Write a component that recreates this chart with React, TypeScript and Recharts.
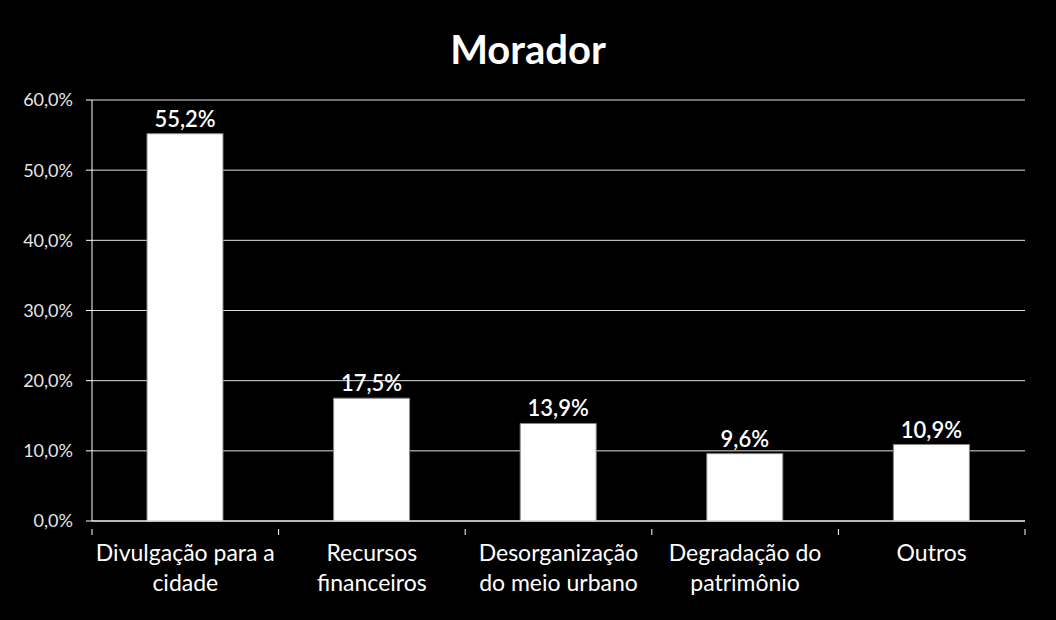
import { BarChart, Bar, XAxis, YAxis, CartesianGrid, LabelList } from "recharts";

const categories = [
  ["Divulgação para a", "cidade"],
  ["Recursos", "financeiros"],
  ["Desorganização", "do meio urbano"],
  ["Degradação do", "patrimônio"],
  ["Outros"],
];
const values = [55.2, 17.5, 13.9, 9.6, 10.9];
const yTicks = [0, 10, 20, 30, 40, 50, 60];

const data = categories.map((lines, i) => ({ name: lines.join(" "), lines, value: values[i] }));

const fmt = (v: number) => v.toFixed(1).replace(".", ",") + "%";
const FONT = "Lato, 'Open Sans', sans-serif";

const CategoryTick = (props: any) => {
  const { x, y, payload, index } = props;
  const half = payload.offset ?? 0;
  const lines: string[] = data[index]?.lines ?? [payload.value];
  return (
    <g>
      {index === 0 && <line x1={x - half} x2={x - half} y1={y} y2={y + 6} stroke="#fff" />}
      <line x1={x + half} x2={x + half} y1={y} y2={y + 6} stroke="#fff" />
      {lines.map((l, i) => (
        <text key={i} x={x} y={y + 32 + i * 30} textAnchor="middle" fill="#fff" fontSize={23} fontFamily={FONT}>
          {l}
        </text>
      ))}
    </g>
  );
};

export default function App() {
  return (
    <div style={{ position: "fixed", left: 0, top: 0, width: 1056, height: 620, background: "#000" }}>
      <div
        style={{
          position: "absolute",
          top: 25,
          width: 1056,
          textAlign: "center",
          color: "#fff",
          fontFamily: FONT,
          fontWeight: 700,
          fontSize: 40,
        }}
      >
        Morador
      </div>
      <BarChart width={1056} height={620} data={data} margin={{ top: 100, right: 31, bottom: 0, left: 0 }}>
        <CartesianGrid vertical={false} stroke="#e0e0e0" />
        <XAxis
          dataKey="name"
          height={99}
          stroke="#fff"
          tickLine={false}
          interval={0}
          tick={<CategoryTick />}
        />
        <YAxis
          width={92}
          domain={[0, 60]}
          ticks={yTicks}
          stroke="#fff"
          tickSize={6}
          tickMargin={13}
          tickFormatter={fmt}
          tick={{ fill: "#e6e6e6", fontSize: 18, fontFamily: FONT }}
        />
        <Bar dataKey="value" fill="#fff" stroke="#888" barSize={76} isAnimationActive={false}>
          <LabelList
            dataKey="value"
            position="top"
            offset={7}
            formatter={(v: any) => fmt(Number(v))}
            fill="#fff"
            fontSize={22}
            fontWeight={600}
            fontFamily={FONT}
          />
        </Bar>
      </BarChart>
    </div>
  );
}
